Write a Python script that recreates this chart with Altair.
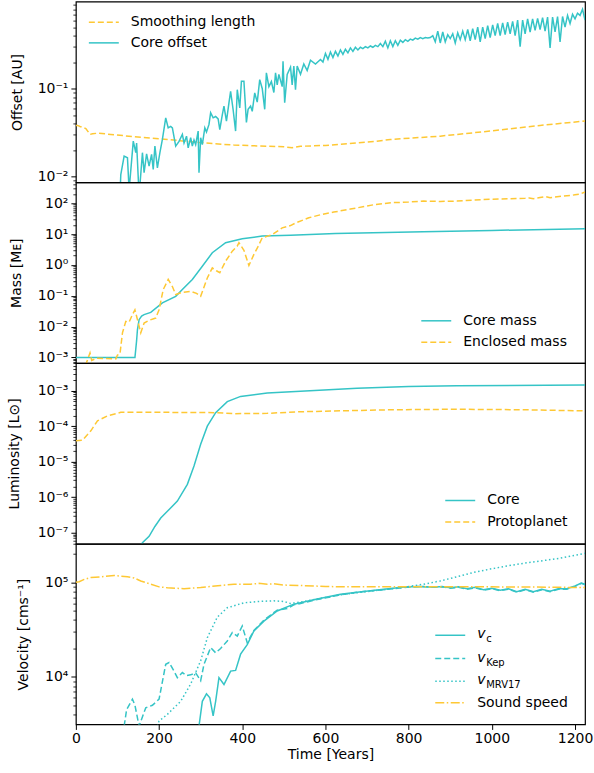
import math
import altair as alt
import pandas as pd

CYAN = "#35c4c6"
YELLOW = "#fec834"
FONT = "DejaVu Sans"
W = 510
H = 181
X_MAX = 1224
FS = 14

# ---------------- Panel 1: offsets ----------------
smooth_t = [0, 4, 10, 24, 34, 40, 52, 70, 84, 140, 220, 300, 380, 440, 500, 520, 540, 600, 720, 756, 876, 996, 1116, 1224]
smooth_v = [0.038, 0.038, 0.037, 0.035, 0.030, 0.0305, 0.031, 0.0305, 0.030, 0.0283, 0.0263, 0.0242, 0.0227, 0.0222,
            0.0217, 0.0212, 0.022, 0.0225, 0.025, 0.0263, 0.0287, 0.0328, 0.038, 0.0426]

offset_t = [106, 108, 116, 124, 128, 138, 144, 146, 152, 160, 164, 170, 176, 182, 186, 190, 196, 202, 208, 216,
            222, 228, 232, 240, 248, 256, 260, 266, 270, 276, 280, 284, 288, 294, 296, 300, 304, 310, 314, 320,
            324, 330, 336, 342, 346, 352, 356, 362, 368, 372, 378, 384, 388, 394, 398, 404, 410, 414, 420, 424,
            430, 436, 442, 448, 454, 458, 464, 470, 476, 480, 484, 488, 496, 498, 502, 508, 516, 520, 524, 528,
            532, 540, 548, 556, 564, 576,
            588, 594, 600, 606, 612, 618, 624, 630, 636, 642, 648, 654, 660, 666, 672, 678, 684, 690, 696, 702,
            708, 714, 720, 726, 732, 738, 744, 750, 756, 762, 768, 774, 780, 786, 792, 798, 804, 810, 816, 822,
            828, 834, 840, 846, 852, 858, 864, 870, 876, 882, 888, 894, 900, 906, 912, 918, 924, 930, 936, 942,
            948, 954, 960, 966, 972, 978, 984, 990, 996, 1002, 1008, 1014, 1020, 1026, 1032, 1038, 1044, 1050,
            1056, 1062, 1068, 1074, 1080, 1086, 1092, 1098, 1104, 1110, 1116, 1122, 1128, 1134, 1140, 1146,
            1152, 1158, 1164, 1170, 1176, 1182, 1188, 1194, 1200, 1206, 1212, 1218, 1224]
offset_v = [0.006, 0.0105, 0.017, 0.0163, 0.007, 0.0252, 0.0186, 0.024, 0.006, 0.0186,
            0.011, 0.018, 0.0131, 0.0178, 0.012, 0.0221, 0.0125, 0.0186, 0.0263, 0.0464,
            0.0357, 0.037, 0.0357, 0.0221, 0.025, 0.030, 0.024, 0.0287, 0.0211, 0.0275,
            0.0221, 0.026, 0.023, 0.0328, 0.011, 0.0275, 0.023, 0.0357, 0.032, 0.039,
            0.053, 0.0464, 0.048, 0.045, 0.034, 0.05, 0.063, 0.0426, 0.0688, 0.093,
            0.0577, 0.0328, 0.097, 0.06, 0.121, 0.121, 0.041, 0.058, 0.063, 0.055,
            0.089, 0.07, 0.126, 0.10, 0.058, 0.151, 0.105, 0.12, 0.09, 0.151,
            0.11, 0.145, 0.105, 0.204, 0.0688, 0.145, 0.175, 0.11, 0.18, 0.097,
            0.18, 0.145, 0.19, 0.16, 0.21, 0.19,
            0.214, 0.20, 0.25, 0.215, 0.26, 0.225, 0.265, 0.235, 0.275, 0.245, 0.28, 0.255, 0.29, 0.265,
            0.295, 0.275, 0.295, 0.285, 0.30, 0.29, 0.305, 0.295, 0.31, 0.30, 0.325, 0.30, 0.345, 0.29,
            0.35, 0.30, 0.35, 0.31, 0.355, 0.335, 0.36, 0.345, 0.365, 0.355, 0.375, 0.365, 0.38, 0.37,
            0.38, 0.375, 0.38, 0.40, 0.34, 0.45, 0.33, 0.44, 0.34, 0.41, 0.37, 0.42, 0.33, 0.43,
            0.36, 0.45, 0.36, 0.47, 0.35, 0.48, 0.36, 0.50, 0.34, 0.50, 0.37, 0.52, 0.38, 0.53,
            0.40, 0.55, 0.40, 0.56, 0.41, 0.57, 0.42, 0.58, 0.40, 0.60, 0.30, 0.60, 0.42, 0.62,
            0.44, 0.62, 0.46, 0.63, 0.47, 0.64, 0.45, 0.65, 0.29, 0.65, 0.44, 0.66, 0.34, 0.66,
            0.50, 0.68, 0.55, 0.70, 0.62, 0.72, 0.68, 0.80, 0.60]

# ---------------- Panel 2: masses ----------------
core_mass_t = [0, 142, 146, 148, 152, 158, 164, 180, 208, 240, 256, 280, 304, 328, 360, 400, 448, 516, 624, 835, 1000, 1224]
core_mass_v = [1e-3, 1e-3, 3.5e-3, 7.9e-3, 1.68e-2, 2.2e-2, 2.45e-2, 2.9e-2, 5.9e-2, 9.6e-2, 0.16, 0.34, 0.91, 2.49,
               5.26, 7.08, 8.65, 9.3, 10.6, 12.0, 13.2, 15.0]

encl_mass_t = [0, 24, 30, 34, 38, 50, 96, 100, 106, 112, 120, 128, 136, 142, 148, 156, 164, 176, 192, 200, 210, 222,
               232, 240, 256, 276, 290, 300, 316, 328, 338, 346, 360, 376, 388, 392, 404, 416, 428, 436, 448, 472,
               496, 516, 528, 560, 592, 620, 660, 716, 760, 800, 836, 876, 916, 956, 996, 1040, 1080, 1090, 1100,
               1116, 1130, 1140, 1150, 1172, 1190, 1200, 1212, 1224]
encl_mass_v = [5e-4, 6e-4, 1.0e-3, 1.4e-3, 8e-4, 9.5e-4, 9e-4, 1.2e-3, 1.3e-3, 6.3e-3, 1.48e-2, 1.4e-2, 2.45e-2, 3.5e-2,
               1.7e-2, 6.3e-3, 1.3e-2, 1.6e-2, 1.9e-2, 3.5e-2, 0.16, 0.34, 0.20, 0.11, 0.13, 0.14, 0.12, 0.096, 0.38,
               0.81, 0.65, 0.56, 1.33, 2.8, 4.1, 5.3, 3.0, 0.96, 2.2, 3.5, 7.6, 9.7, 16, 19, 23, 34, 44, 52, 65, 90,
               105, 110, 118, 115, 118, 128, 135, 140, 145, 150, 142, 154, 165, 152, 160, 173, 180, 190, 200, 233]

# ---------------- Panel 3: luminosity ----------------
lum_core_t = [150, 160, 176, 190, 204, 220, 244, 268, 284, 300, 316, 336, 364, 396, 460, 540, 676, 800, 916, 1224]
lum_core_v = [3e-8, 5.2e-8, 7.9e-8, 1.5e-7, 2.6e-7, 4.0e-7, 7.8e-7, 2.3e-6, 7.6e-6, 3.1e-5, 1.0e-4, 2.4e-4, 4.9e-4,
              6.9e-4, 8.6e-4, 9.6e-4, 1.17e-3, 1.3e-3, 1.38e-3, 1.45e-3]

lum_pp_t = [0, 16, 36, 52, 76, 108, 220, 340, 380, 460, 540, 756, 916, 1076, 1224]
lum_pp_v = [3.9e-5, 4.0e-5, 7.4e-5, 1.42e-4, 1.96e-4, 2.45e-4, 2.45e-4, 2.4e-4, 2.25e-4, 2.3e-4, 2.55e-4, 2.9e-4,
            3.0e-4, 2.9e-4, 2.7e-4]

# ---------------- Panel 4: velocities ----------------
vc_t = [296, 304, 314, 322, 330, 336, 344, 356, 372, 384, 396, 412, 428, 452, 484, 524, 580, 636, 676, 740, 796, 830,
        860, 880, 900, 920, 940, 960, 980, 1000, 1020, 1040, 1060, 1080, 1100, 1120, 1140, 1160, 1180, 1200, 1215, 1224]
vc_v = [3.0e3, 5.5e3, 6.6e3, 6.0e3, 3.85e3, 5.5e3, 9.8e3, 8.3e3, 1.15e4, 1.17e4, 1.74e4, 2.2e4, 3.07e4, 3.9e4, 5.0e4,
        5.9e4, 6.7e4, 7.5e4, 7.9e4, 8.5e4, 9.0e4, 9.1e4, 8.9e4, 9.1e4, 8.8e4, 9.0e4, 8.6e4, 8.9e4, 8.4e4, 8.7e4,
        8.3e4, 8.6e4, 8.0e4, 8.5e4, 8.0e4, 8.5e4, 8.1e4, 8.6e4, 8.6e4, 9.2e4, 9.9e4, 9.6e4]

vkep_t = [116, 122, 136, 142, 152, 168, 184, 200, 216, 224, 236, 244, 256, 266, 276, 288, 300, 308, 324, 336, 348, 364,
          376, 388, 400, 412, 428, 452, 484, 508, 524, 540, 580, 636, 676, 740, 796, 830, 860, 880, 900, 920, 940,
          960, 980, 1000, 1020, 1040, 1060, 1080, 1100, 1120, 1140, 1160, 1180, 1200, 1215, 1224]
vkep_v = [3.0e3, 4.5e3, 5.8e3, 5.0e3, 3.0e3, 4.7e3, 5.0e3, 5.8e3, 1.36e4, 1.42e4, 1.15e4, 9.8e3, 1.11e4, 1.03e4,
          1.05e4, 1.1e4, 9.1e3, 1.36e4, 2.04e4, 1.8e4, 2.0e4, 2.4e4, 2.95e4, 2.7e4, 3.46e4, 2.3e4, 3.1e4, 4.0e4,
          5.1e4, 5.3e4, 5.8e4, 6.0e4, 6.6e4, 7.4e4, 7.9e4, 8.4e4, 8.9e4, 9.1e4, 8.9e4, 9.0e4, 8.7e4, 8.9e4, 8.5e4,
          8.8e4, 8.3e4, 8.6e4, 8.2e4, 8.5e4, 7.9e4, 8.4e4, 7.9e4, 8.4e4, 8.0e4, 8.5e4, 8.5e4, 9.1e4, 9.8e4, 9.5e4]

vmrv_t = [196, 200, 220, 252, 276, 300, 316, 340, 364, 404, 440, 476, 500, 516, 540, 580, 636, 676, 740, 796, 836, 876,
          916, 956, 996, 1036, 1076, 1116, 1160, 1200, 1224]
vmrv_v = [3.0e3, 3.4e3, 4.0e3, 5.5e3, 8.4e3, 1.48e4, 2.6e4, 4.3e4, 5.4e4, 6.1e4, 6.3e4, 6.4e4, 6.3e4, 6.0e4, 6.2e4,
          6.7e4, 7.4e4, 7.8e4, 8.4e4, 9.0e4, 9.6e4, 1.04e5, 1.15e5, 1.28e5, 1.39e5, 1.5e5, 1.6e5, 1.69e5, 1.8e5,
          1.95e5, 2.04e5]

cs_t = [0, 8, 20, 36, 60, 92, 124, 140, 156, 180, 200, 220, 260, 300, 348, 380, 420, 440, 460, 476, 500, 540, 600, 636,
        700, 796, 900, 1000, 1100, 1224]
cs_v = [1.01e5, 1.02e5, 1.08e5, 1.13e5, 1.15e5, 1.19e5, 1.15e5, 1.12e5, 1.04e5, 9.6e4, 9.0e4, 8.8e4, 8.6e4, 8.85e4,
        9.3e4, 9.6e4, 9.6e4, 9.8e4, 9.6e4, 9.7e4, 9.4e4, 9.3e4, 9.1e4, 9.0e4, 9.0e4, 9.0e4, 9.0e4, 9.0e4, 8.95e4,
        8.85e4]

# legend labels
leg1 = ["Smoothing length", "Core offset"]
leg2 = ["Core mass", "Enclosed mass"]
leg3 = ["Core", "Protoplanet"]
leg4_sub = ["c", "Kep", "MRV17"]
leg4_last = "Sound speed"

DASH = [6, 3]
DOT = [1.5, 2.5]
DASHDOT = [9, 2.5, 1.5, 2.5]

MAJOR = "abs(log(datum.value)/LN10 - round(log(datum.value)/LN10)) < 0.001"
LABEL = ("(" + MAJOR + ") ? ('10' + (round(log(datum.value)/LN10) < 0 ? '⁻' : '') + "
         "['⁰','¹','²','³','⁴','⁵','⁶','⁷','⁸','⁹'][abs(round(log(datum.value)/LN10))]) : ''")


def log_ticks(lo, hi):
    vals = []
    for e in range(math.floor(math.log10(lo)), math.ceil(math.log10(hi)) + 1):
        for m in range(1, 10):
            v = m * 10.0 ** e
            if lo <= v <= hi:
                vals.append(v)
    return vals


def yaxis(title, lo, hi, title_x):
    return alt.Axis(
        title=title, values=log_ticks(lo, hi), labelExpr=LABEL,
        tickSize={"condition": {"test": MAJOR, "value": 5}, "value": 3},
        tickWidth={"condition": {"test": MAJOR, "value": 1}, "value": 0.8},
        labelFontSize={"condition": {"test": MAJOR, "value": FS}, "value": 0},
        tickColor="black", domain=False, grid=False,
        labelFont=FONT, labelColor="black", labelPadding=3,
        labelFlush=False, labelOverlap=False, labelBound=False,
        titleFont=FONT, titleFontSize=FS, titleFontWeight="normal", titleColor="black",
        titleX=title_x, titleY=H / 2, titleAlign="center", titleBaseline="middle", titleAngle=270,
    )


def line(t, v, color, dash, y_scale, y_axis=alt.Undefined, x_axis=alt.Undefined):
    df = pd.DataFrame({"t": t, "v": v})
    kw = dict(color=color, strokeWidth=1.5, clip=True)
    if dash is not None:
        kw["strokeDash"] = dash
    return alt.Chart(df).mark_line(**kw).encode(
        x=alt.X("t:Q", scale=alt.Scale(domain=[0, X_MAX], nice=False, zero=False), axis=x_axis),
        y=alt.Y("v:Q", scale=y_scale, axis=y_axis),
    )


ONE = pd.DataFrame({"k": [0]})


def leg_line(x1, x2, y, color, dash):
    kw = dict(color=color, strokeWidth=1.5)
    if dash is not None:
        kw["strokeDash"] = dash
    return alt.Chart(ONE).mark_rule(**kw).encode(x=alt.value(x1), x2=alt.value(x2), y=alt.value(y))


def leg_text(x, y, text, size=FS, italic=False):
    kw = dict(align="left", baseline="middle", font=FONT, fontSize=size, color="black")
    if italic:
        kw["fontStyle"] = "italic"
    return alt.Chart(ONE).mark_text(**kw).encode(x=alt.value(x), y=alt.value(y), text=alt.value(text))


bottom_axis = alt.Axis(
    title="Time [Years]", values=[0, 200, 400, 600, 800, 1000, 1200], format="d",
    tickSize=5, tickColor="black", domain=False, grid=False,
    labelFont=FONT, labelFontSize=FS, labelColor="black", labelPadding=2, labelFlush=False,
    titleFont=FONT, titleFontSize=FS, titleFontWeight="normal", titleColor="black", titlePadding=2,
)

# Panel 1
s1 = alt.Scale(type="log", domain=[0.00855, 0.975], nice=False)
p1 = alt.layer(
    line(smooth_t, smooth_v, YELLOW, DASH, s1, yaxis("Offset [AU]", 0.00855, 0.975, -58), None),
    line(offset_t, offset_v, CYAN, None, s1, x_axis=None),
    leg_line(13, 43, 20.7, YELLOW, DASH), leg_text(55, 20.7, leg1[0]),
    leg_line(13, 43, 41.3, CYAN, None), leg_text(55, 41.3, leg1[1]),
).properties(width=W, height=H)

# Panel 2
s2 = alt.Scale(type="log", domain=[6.6e-4, 480], nice=False)
p2 = alt.layer(
    line(core_mass_t, core_mass_v, CYAN, None, s2, yaxis("Mass [Mᴇ]", 6.6e-4, 480, -59), None),
    line(encl_mass_t, encl_mass_v, YELLOW, DASH, s2, x_axis=None),
    leg_line(346, 376, 138.7, CYAN, None), leg_text(388, 138.7, leg2[0]),
    leg_line(346, 376, 160.3, YELLOW, DASH), leg_text(388, 160.3, leg2[1]),
).properties(width=W, height=H)

# Panel 3
s3 = alt.Scale(type="log", domain=[4.9e-8, 6.0e-3], nice=False)
p3 = alt.layer(
    line(lum_core_t, lum_core_v, CYAN, None, s3, yaxis("Luminosity [L⊙]", 4.9e-8, 6.0e-3, -61), None),
    line(lum_pp_t, lum_pp_v, YELLOW, DASH, s3, x_axis=None),
    leg_line(370, 400, 137.7, CYAN, None), leg_text(412, 137.7, leg3[0]),
    leg_line(370, 400, 159.3, YELLOW, DASH), leg_text(412, 159.3, leg3[1]),
).properties(width=W, height=H)

# Panel 4
s4 = alt.Scale(type="log", domain=[3.13e3, 2.58e5], nice=False)
rows4 = [91.7, 115.0, 137.7, 159.3]
p4 = alt.layer(
    line(vc_t, vc_v, CYAN, None, s4, yaxis("Velocity [cms⁻¹]", 3.13e3, 2.58e5, -52), bottom_axis),
    line(vkep_t, vkep_v, CYAN, DASH, s4),
    line(vmrv_t, vmrv_v, CYAN, DOT, s4),
    line(cs_t, cs_v, YELLOW, DASHDOT, s4),
    leg_line(360, 390, rows4[0], CYAN, None),
    leg_text(402, rows4[0] - 1, "v", italic=True), leg_text(411, rows4[0] + 4, leg4_sub[0], size=10),
    leg_line(360, 390, rows4[1], CYAN, DASH),
    leg_text(402, rows4[1] - 1, "v", italic=True), leg_text(411, rows4[1] + 4, leg4_sub[1], size=10),
    leg_line(360, 390, rows4[2], CYAN, DOT),
    leg_text(402, rows4[2] - 1, "v", italic=True), leg_text(411, rows4[2] + 4, leg4_sub[2], size=10),
    leg_line(360, 390, rows4[3], YELLOW, DASHDOT), leg_text(402, rows4[3], leg4_last),
).properties(width=W, height=H)

chart = alt.vconcat(p1, p2, p3, p4, spacing=0, bounds="flush").configure_view(
    stroke="black", strokeWidth=1.2
).properties(
    padding={"left": 7, "top": 0, "right": 0, "bottom": 0}, background="white"
)

chart.save("out.html", embed_options={"renderer": "svg", "actions": False})
